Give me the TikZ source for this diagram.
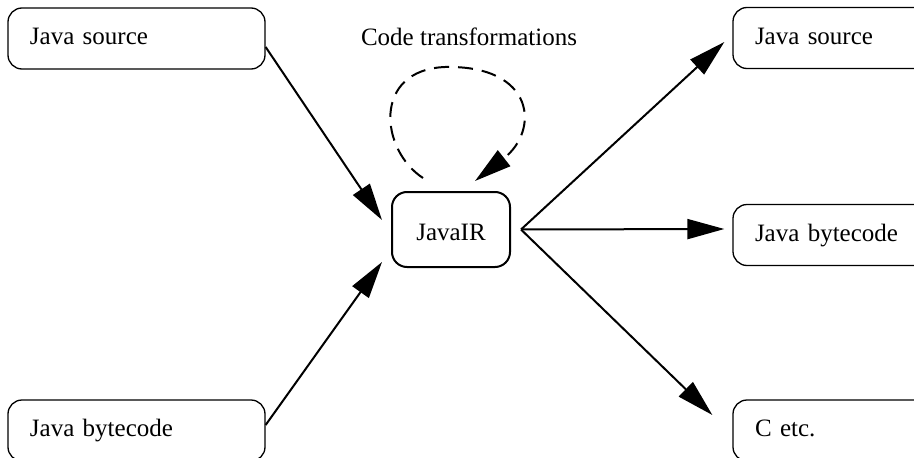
\documentclass[tikz,border=0pt]{standalone}
\usepackage{fontspec}
\setmainfont{Liberation Serif}
\usetikzlibrary{arrows.meta,calc}
\tikzset{
  txt/.style={font=\fontsize{25}{30}\selectfont},
  box/.style={txt, draw, line width=1.3pt, rounded corners=14pt,
    minimum width=257pt, minimum height=61pt, text width=213pt,
    inner xsep=22pt, inner ysep=0pt, align=left, text height=18pt, text depth=6pt},
  irbox/.style={txt, draw, line width=2pt, rounded corners=15pt,
    minimum width=118pt, minimum height=75pt, inner sep=0pt, text height=22pt, text depth=0pt},
  conn/.style={line width=2pt, -{Triangle[length=37pt,width=20pt]}},
  dashloop/.style={conn, dash pattern=on 15pt off 9pt},
}
\begin{document}
\begin{tikzpicture}[x=1pt,y=-1pt]
\useasboundingbox (0,0) rectangle (914,458);
\clip (0,0) rectangle (914,458);
\node[box] (tl) at (136.5,38.5) {Java source};
\node[box] (bl) at (136.5,430.5) {Java bytecode};
\node[box] (tr) at (861.5,38) {Java source};
\node[box] (mr) at (861.5,235) {Java bytecode};
\node[box] (br) at (861.5,430.5) {C etc.};
\node[irbox] (ir) at (451,229.5) {JavaIR};
\node[txt, anchor=base] (ct) at (469,45) {Code transformations};
\coordinate (port) at ($(ir.east)+(10,0)$);
\draw[conn] ($(tl.east)+(0,8.5)$) -- ($(ir.west)+(-9,-9.5)$);
\draw[conn] ($(bl.east)+(0,-5.5)$) -- ($(ir.west)+(-9,32.5)$);
\draw[conn] (port) -- ($(tr.west)+(-8,4)$);
\draw[conn] (port) -- ($(mr.west)+(-8,-6)$);
\draw[conn] (port) -- ($(br.west)+(-20,-15.5)$);
\draw[dashloop] ($(ir.north)+(-28,-13)$) .. controls (380,150) and (372,70) .. (445,67)
  .. controls (535,65) and (540,130) .. ($(ir.north)+(24,-10)$);
\end{tikzpicture}
\end{document}
